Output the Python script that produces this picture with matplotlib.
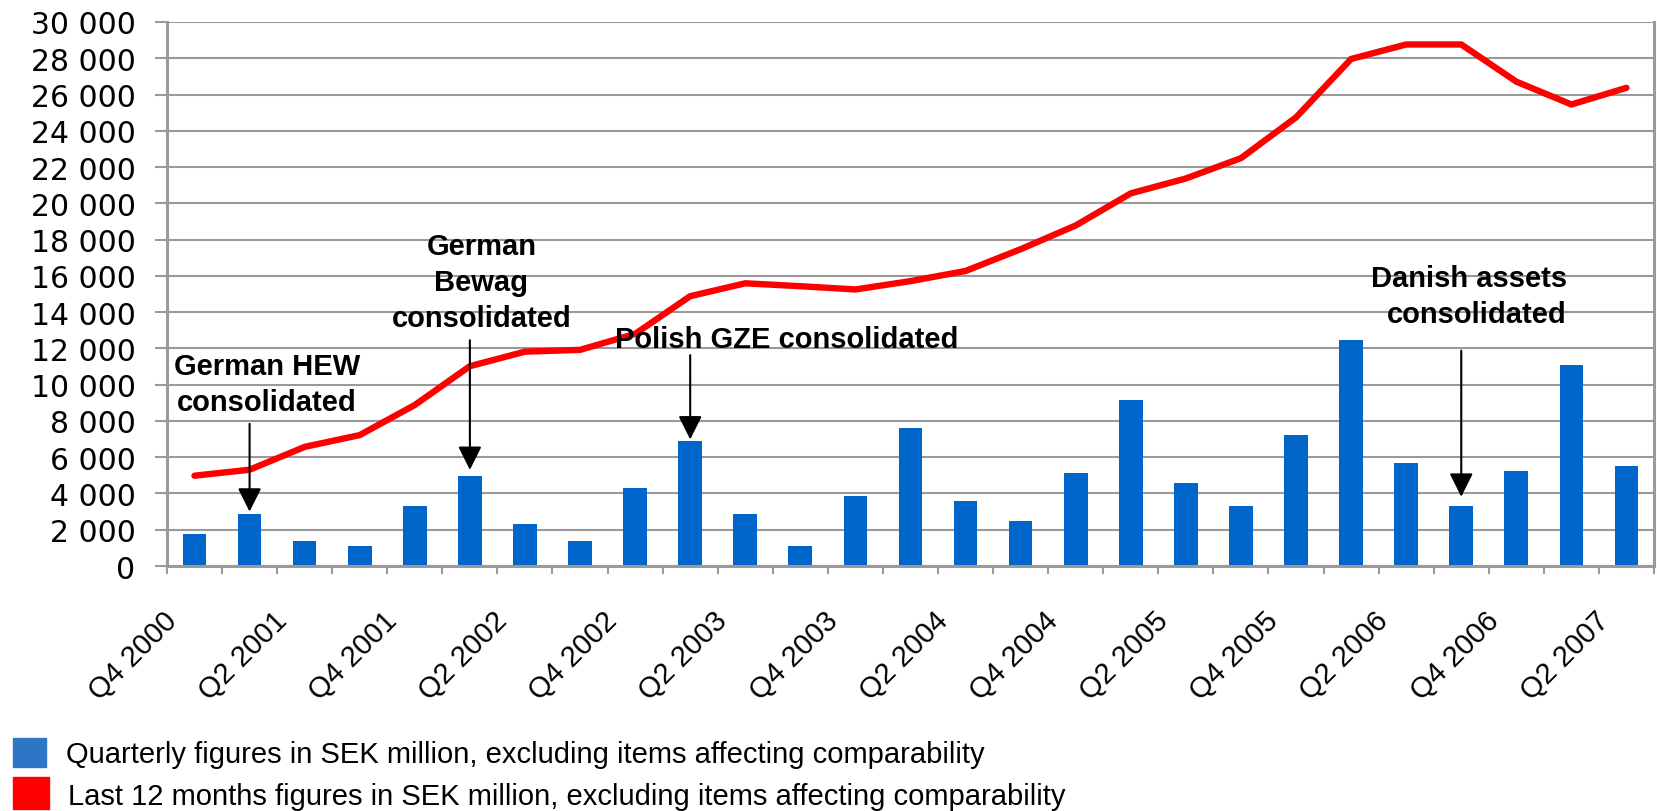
import numpy as np
import matplotlib.pyplot as plt
from matplotlib.ticker import FuncFormatter
from matplotlib.patches import Rectangle

plt.rcParams['font.family'] = ['Liberation Sans', 'DejaVu Sans']

quarters = ["Q4 2000", "Q1 2001", "Q2 2001", "Q3 2001", "Q4 2001",
            "Q1 2002", "Q2 2002", "Q3 2002", "Q4 2002",
            "Q1 2003", "Q2 2003", "Q3 2003", "Q4 2003",
            "Q1 2004", "Q2 2004", "Q3 2004", "Q4 2004",
            "Q1 2005", "Q2 2005", "Q3 2005", "Q4 2005",
            "Q1 2006", "Q2 2006", "Q3 2006", "Q4 2006",
            "Q1 2007", "Q2 2007"]

# SEK million, excluding items affecting comparability
quarterly = [1750, 2860, 1370, 1100, 3290, 4940, 2310, 1370, 4290,
             6880, 2860, 1080, 3840, 7590, 3570, 2470, 5120, 9140,
             4570, 3290, 7200, 12450, 5670, 3290, 5220, 11080, 5490]
last_12m = [4980, 5310, 6570, 7220, 8880, 11020, 11820, 11920, 12800,
            14880, 15590, 15430, 15250, 15710, 16270, 17470, 18780, 20550,
            21370, 22490, 24740, 27960, 28760, 28760, 26710, 25450, 26370]

legend_labels = ["Quarterly figures in SEK million, excluding items affecting comparability",
                 "Last 12 months figures in SEK million, excluding items affecting comparability"]

GRID = '#9a9a9a'
BAR = '#0066cc'
LINE = '#ff0000'

fig = plt.figure(figsize=(16.58, 8.12), dpi=100)
ax = fig.add_axes([0.1007, 0.3017, 0.8969, 0.67])

x = np.arange(len(quarters))
ax.bar(x, quarterly, width=0.43, color=BAR, zorder=2)
ax.plot(x, last_12m, color=LINE, lw=4.6, solid_capstyle='round',
        solid_joinstyle='round', zorder=3)

ax.set_xlim(-0.5, len(quarters) - 0.5)
ax.set_ylim(0, 30000)
ax.set_yticks(np.arange(0, 30001, 2000))
ax.yaxis.set_major_formatter(FuncFormatter(lambda v, p: f"{int(v):,}".replace(",", " ")))
ax.grid(axis='y', color=GRID, lw=1.5)
ax.set_axisbelow(True)

for side in ['left', 'bottom', 'right']:
    ax.spines[side].set_color(GRID)
    ax.spines[side].set_linewidth(2.2)
ax.spines['top'].set_visible(False)

ax.tick_params(axis='y', length=8.6, width=1.5, color=GRID, pad=14,
               labelsize=21.5, labelfontfamily='DejaVu Sans')

# tick marks between categories, labels on every second quarter
ax.set_xticks(np.arange(-0.5, len(quarters)), [''] * (len(quarters) + 1))
ax.tick_params(axis='x', which='major', length=6, width=1.5, color=GRID)
shown = x[::2]
ax.set_xticks(shown - 0.4, [quarters[i] for i in shown], minor=True,
              rotation=45, ha='right', va='center', rotation_mode='anchor')
ax.tick_params(axis='x', which='minor', length=0, pad=36, labelsize=21)

arrow = dict(arrowstyle='-|>', color='black', lw=1.5, mutation_scale=36,
             shrinkA=0, shrinkB=0)
note = dict(fontsize=21, fontweight='bold', va='top', linespacing=1.35, zorder=5)

ax.annotate('', xy=(1, 3000), xytext=(1, 7840), arrowprops=arrow, zorder=4)
ax.text(1.32, 11800, "German HEW\nconsolidated", ha='center', **note)

ax.annotate('', xy=(5, 5300), xytext=(5, 12450), arrowprops=arrow, zorder=4)
ax.text(5.21, 18400, "German\nBewag\nconsolidated", ha='center', **note)

ax.annotate('', xy=(9, 6980), xytext=(9, 11630), arrowprops=arrow, zorder=4)
ax.text(10.76, 13300, "Polish GZE consolidated", ha='center', **note)

ax.annotate('', xy=(23, 3820), xytext=(23, 11880), arrowprops=arrow, zorder=4)
ax.text(24.92, 16640, "Danish assets\nconsolidated", ha='right',
        multialignment='right', **note)

# legend drawn by hand below the axis labels
fig.patches.append(Rectangle((0.0078, 0.0542), 0.0199, 0.0357,
                             transform=fig.transFigure, color='#2e75c6'))
fig.patches.append(Rectangle((0.0078, 0.0025), 0.0217, 0.0394,
                             transform=fig.transFigure, color=LINE))
fig.text(0.0398, 0.0603, legend_labels[0], fontsize=21, va='baseline')
fig.text(0.0410, 0.0086, legend_labels[1], fontsize=21, va='baseline')

fig.savefig('out.png', dpi=100)
